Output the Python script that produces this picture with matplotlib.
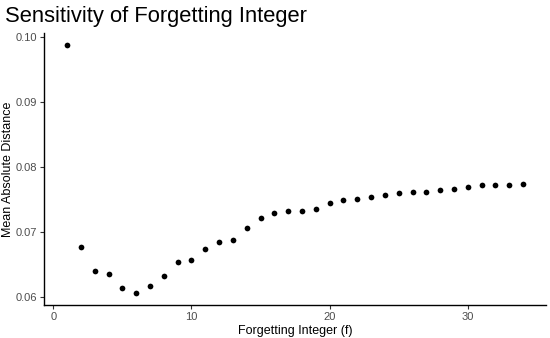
import matplotlib
matplotlib.use("Agg")
import matplotlib.pyplot as plt

plt.rcParams["font.family"] = ["Liberation Sans", "DejaVu Sans"]

# forgetting integer f and mean absolute distance
f_values = list(range(1, 35))
mad = [0.0988, 0.0677, 0.0641, 0.0636, 0.0615, 0.0607, 0.0617, 0.0633,
       0.0654, 0.0657, 0.0675, 0.0685, 0.0688, 0.0707, 0.0722, 0.0729,
       0.0732, 0.0733, 0.0736, 0.0745, 0.0750, 0.0751, 0.0755, 0.0758,
       0.0760, 0.0762, 0.0762, 0.0765, 0.0767, 0.0770, 0.0772, 0.0773,
       0.0773, 0.0774]
x_ticks = [0, 10, 20, 30]
y_ticks = [0.06, 0.07, 0.08, 0.09, 0.10]

fig = plt.figure(figsize=(5.5, 3.38), dpi=100)
ax = fig.add_axes([0.0806, 0.0973, 0.912, 0.806])

ax.scatter(f_values, mad, s=17, color="black", linewidths=0, zorder=3)

# ggplot-style 5% expansion
xr = max(f_values) - min(f_values)
yr = max(mad) - min(mad)
ax.set_xlim(min(f_values) - 0.05 * xr, max(f_values) + 0.05 * xr)
ax.set_ylim(min(mad) - 0.05 * yr, max(mad) + 0.05 * yr)

ax.set_xticks(x_ticks)
ax.set_yticks(y_ticks)
ax.set_yticklabels(["%.2f" % v for v in y_ticks])
ax.tick_params(labelsize=8, colors="#333333", labelcolor="#4d4d4d",
               length=3, width=0.8, pad=2)

for spine in ["top", "right"]:
    ax.spines[spine].set_visible(False)
for spine in ["left", "bottom"]:
    ax.spines[spine].set_linewidth(1.0)

ax.set_xlabel("Forgetting Integer (f)", fontsize=9, labelpad=2)
ax.set_ylabel("Mean Absolute Distance", fontsize=9, labelpad=1)

fig.text(0.009, 0.935, "Sensitivity of Forgetting Integer", fontsize=15.8,
         ha="left", va="baseline")

plt.savefig("out.png", dpi=100)
